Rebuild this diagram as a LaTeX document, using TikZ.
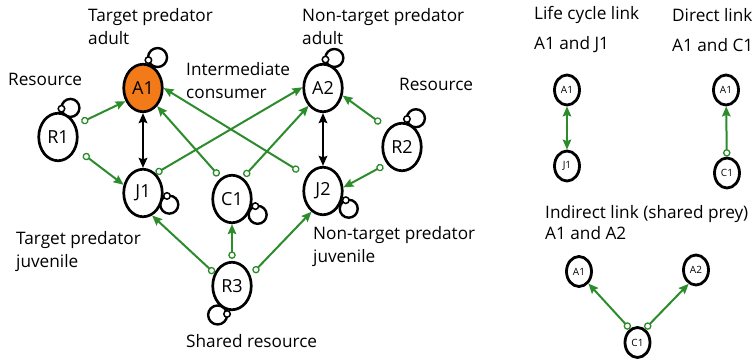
\documentclass[tikz,border=0pt]{standalone}
\usepackage{fontspec}
\setmainfont{Open Sans}
\usetikzlibrary{arrows.meta, shapes.geometric, backgrounds}

\definecolor{linkgreen}{RGB}{44,140,44}
\definecolor{targetorange}{RGB}{242,122,24}

\begin{document}
\begin{tikzpicture}[
  x=1pt, y=1pt,
  sp/.style={
    ellipse, draw=black, line width=2.7pt, fill=white,
    minimum width=38.5pt, minimum height=47.5pt, inner sep=0pt,
    font=\fontsize{18}{20}\selectfont},
  target/.style={sp, fill=targetorange},
  mini/.style={
    ellipse, draw=black, line width=2.8pt, fill=white,
    minimum width=25pt, minimum height=30pt, inner sep=0pt,
    font=\fontsize{10}{11}\selectfont},
  lbl/.style={anchor=west, align=left, inner sep=0pt,
    font=\fontsize{17.2}{23}\selectfont},
  lp/.style={circle, draw=black, line width=1.5pt, fill=white,
    minimum size=6.5pt, inner sep=0pt},
  ring/.style={draw=black, line width=2.4pt},
  feed/.style={
    {Circle[fill=white,length=7.5pt,width=7.5pt,line width=1.3pt]}-{Stealth[length=10pt,width=8.5pt,inset=1.5pt]},
    line width=2pt, draw=linkgreen},
  life/.style={
    {Stealth[length=10pt,width=8.5pt,inset=1.5pt]}-{Stealth[length=10pt,width=8.5pt,inset=1.5pt]},
    line width=2.2pt, draw=black},
  lifeg/.style={life, draw=linkgreen, line width=2pt}
]
\useasboundingbox (0,0) rectangle (753,-361);

%% Food web species
\node[sp]     (R1) at (58,-137)  {R1};
\node[target] (A1) at (143,-88)  {A1};
\node[sp]     (J1) at (143,-193) {J1};
\node[sp]     (C1) at (232,-199) {C1};
\node[sp]     (A2) at (323,-88)  {A2};
\node[sp]     (J2) at (323,-191) {J2};
\node[sp]     (R2) at (402,-147) {R2};
\node[sp]     (R3) at (232,-286) {R3};

%% Self loops (density dependence)
\begin{scope}[on background layer]
  \draw[ring] ([shift={(79:3.5pt)}]A1.79)   ++(16:9.5pt)  circle (9.5pt);
  \draw[ring] ([shift={(85:3.5pt)}]A2.85)   ++(10:9pt)    circle (9pt);
  \draw[ring] ([shift={(83:3.5pt)}]R1.83)   ++(5:9pt)     circle (9pt);
  \draw[ring] ([shift={(80:3.5pt)}]R2.80)   ++(5:9pt)     circle (9pt);
  \draw[ring] ([shift={(-7:3.5pt)}]J1.-7)   ++(-75:9pt)   circle (9pt);
  \draw[ring] ([shift={(-17:3.5pt)}]C1.-17) ++(-75:9pt)   circle (9pt);
  \draw[ring] ([shift={(-22:3.5pt)}]J2.-22) ++(-71:9pt)   circle (9pt);
  \draw[ring] ([shift={(260:3.5pt)}]R3.260) ++(186:9.5pt) circle (9.5pt);
\end{scope}
\node[lp] (A1l) at ([shift={(79:3.5pt)}]A1.79)   {};
\node[lp] (A2l) at ([shift={(85:3.5pt)}]A2.85)   {};
\node[lp] (R1l) at ([shift={(83:3.5pt)}]R1.83)   {};
\node[lp] (R2l) at ([shift={(80:3.5pt)}]R2.80)   {};
\node[lp] (J1l) at ([shift={(-7:3.5pt)}]J1.-7)   {};
\node[lp] (C1l) at ([shift={(-17:3.5pt)}]C1.-17) {};
\node[lp] (J2l) at ([shift={(-22:3.5pt)}]J2.-22) {};
\node[lp] (R3l) at ([shift={(260:3.5pt)}]R3.260) {};

%% Life cycle links
\draw[life] (A1) -- (J1);
\draw[life] (A2) -- (J2);

%% Feeding links
\draw[feed, shorten <=6pt] (R1.34)  -- (A1.217);
\draw[feed, shorten <=9pt] (R1.327) -- (J1.157);
\draw[feed]                (J1.57)  -- (A2.178);
\draw[feed, shorten <=3pt] (C1.118) -- (A1.308);
\draw[feed, shorten <=2pt] (C1.63)  -- (A2.231);
\draw[feed, shorten <=9pt] (J2.137) -- (A1.0);
\draw[feed, shorten <=9pt] (R2.127) -- (A2.339);
\draw[feed, shorten <=4pt] (R2.228) -- (J2.10);
\draw[feed]                (R3.144) -- (J1.292);
\draw[feed, shorten <=2pt] (R3.90)  -- (C1.270);
\draw[feed, shorten <=4pt] (R3.30)  -- (J2.241);

%% Labels
\node[lbl] (tpa)   at (88,-26.5)  {Target predator\\adult};
\node[lbl] (ntpa)  at (302,-26.5) {Non-target predator\\adult};
\node[lbl] (res1)  at (8,-79)     {Resource};
\node[lbl] (inter) at (186,-80.5) {Intermediate\\consumer};
\node[lbl] (res2)  at (399,-84)   {Resource};
\node[lbl] (tpj)   at (16,-251.5) {Target predator\\juvenile};
\node[lbl] (ntpj)  at (313,-247)  {Non-target predator\\juvenile};
\node[lbl] (shres) at (186,-341)  {Shared resource};

%% Legend: link types
\node[lbl] (lifelbl)  at (534,-30)    {Life cycle link\\[7pt]A1 and J1};
\node[lbl] (dirlbl)   at (672,-30)    {Direct link\\[7pt]A1 and C1};
\node[lbl] (indirlbl) at (545,-222.5) {Indirect link (shared prey)\\[-2pt]A1 and A2};

\node[mini] (lA1) at (567,-90)    {A1};
\node[mini] (lJ1) at (567,-166)   {J1};
\node[mini] (dA1) at (726,-90)    {A1};
\node[mini] (dC1) at (727,-173)   {C1};
\node[mini] (iA1) at (579,-271.5) {A1};
\node[mini] (iA2) at (696,-270)   {A2};
\node[mini] (iC1) at (637.5,-342.5) {C1};

\draw[lifeg] (lA1) -- (lJ1);
\draw[feed] (dC1) -- (dA1);
\draw[feed] (iC1.119) -- (iA1.308);
\draw[feed] (iC1.61)  -- (iA2.242);

\end{tikzpicture}
\end{document}
